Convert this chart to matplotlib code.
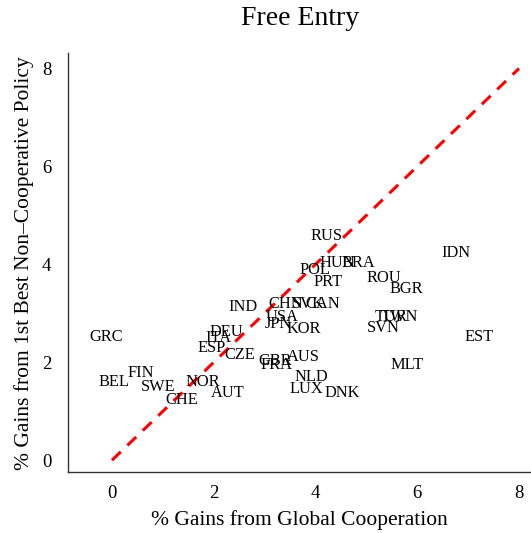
import numpy as np
import matplotlib.pyplot as plt

# country labels and values
countries = ['GRC', 'BEL', 'FIN', 'SWE', 'CHE', 'NOR', 'AUT', 'ESP', 'ITA', 'DEU',
             'CZE', 'IND', 'CHN', 'SVK', 'CAN', 'USA', 'JPN', 'KOR', 'RUS', 'HUN',
             'BRA', 'POL', 'PRT', 'ROU', 'BGR', 'IDN', 'TUR', 'TWN', 'SVN', 'EST',
             'MLT', 'AUS', 'GBR', 'FRA', 'NLD', 'LUX', 'DNK']
gains_coop = [-0.12, 0.04, 0.57, 0.90, 1.37, 1.78, 2.27, 1.96, 2.10, 2.25,
              2.51, 2.57, 3.41, 3.86, 4.14, 3.35, 3.27, 3.76, 4.22, 4.43,
              4.84, 3.98, 4.25, 5.35, 5.78, 6.76, 5.49, 5.65, 5.33, 7.22,
              5.80, 3.76, 3.20, 3.24, 3.92, 3.82, 4.53]
gains_noncoop = [2.51, 1.59, 1.78, 1.49, 1.24, 1.59, 1.37, 2.29, 2.49, 2.61,
                 2.14, 3.12, 3.20, 3.20, 3.20, 2.92, 2.78, 2.67, 4.57, 4.02,
                 4.02, 3.88, 3.63, 3.73, 3.49, 4.24, 2.92, 2.92, 2.71, 2.51,
                 1.94, 2.10, 2.02, 1.94, 1.69, 1.45, 1.37]
ticks = [0, 2, 4, 6, 8]

plt.rcParams['font.family'] = ['Liberation Serif', 'DejaVu Serif']

fig = plt.figure(figsize=(5.31, 5.33), dpi=100)
ax = fig.add_axes([0.128, 0.114, 0.872, 0.786])

for name, x, y in zip(countries, gains_coop, gains_noncoop):
    ax.text(x, y, name, fontsize=11.8, ha='center', va='center', color='black')

ax.plot([0, 8], [0, 8], color='#ff0000', lw=2.2, linestyle=(0, (4, 3)))

ax.set_xlim(-0.865, 8.236)
ax.set_ylim(-0.245, 8.31)
ax.set_xticks(ticks)
ax.set_yticks(ticks)
ax.tick_params(length=0, labelsize=13.5)
ax.tick_params(axis='x', pad=9)
ax.tick_params(axis='y', pad=12)
for s in ['top', 'right']:
    ax.spines[s].set_visible(False)
for s in ['left', 'bottom']:
    ax.spines[s].set_color('#333333')
    ax.spines[s].set_linewidth(1.0)

ax.set_xlabel('% Gains from Global Cooperation', fontsize=15.5, labelpad=6)
ax.set_ylabel('% Gains from 1st Best Non\u2013Cooperative Policy', fontsize=15.5, labelpad=6)
fig.text(0.565, 0.965, 'Free Entry', fontsize=20, ha='center', va='center')

plt.savefig('out.png', dpi=100)
